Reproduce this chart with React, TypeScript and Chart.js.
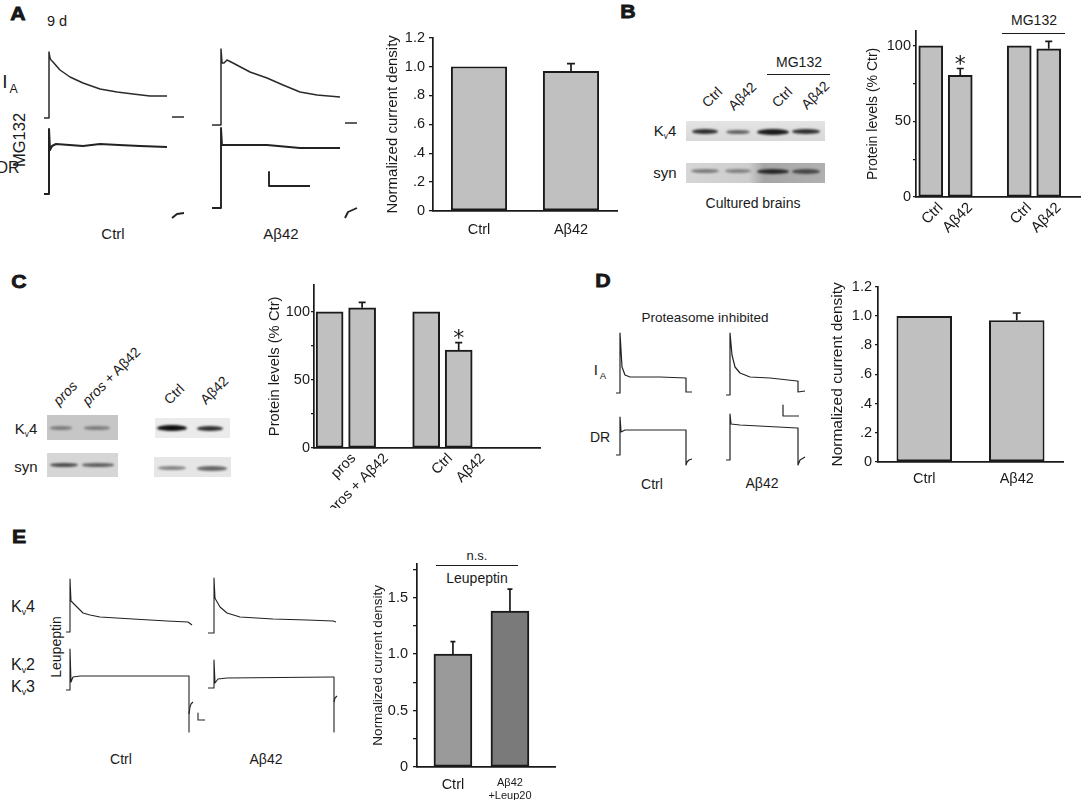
import React, { useEffect, useRef } from 'react';
import { Chart, registerables } from 'chart.js';

Chart.register(...registerables);

const FONT = "'Liberation Sans', Arial, Helvetica, sans-serif";
const INK = '#1a1a1a';
Chart.defaults.font.family = FONT;
Chart.defaults.color = INK;

// ---------------- bar chart data ----------------
const aCategories = ['Ctrl', 'Aβ42'];
const aValues = [1.0, 0.97];
const aErrors = [0, 0.05];

const bCategories = ['Ctrl', 'Aβ42', 'Ctrl', 'Aβ42'];
const bSlots = [0.5, 1.5, 3.5, 4.5];
const bValues = [100, 80.5, 100, 98];
const bErrors = [0, 4.5, 0, 5];
const bStars = [false, true, false, false];

const cCategories = ['pros', 'pros + Aβ42', 'Ctrl', 'Aβ42'];
const cSlots = [0.48, 1.48, 3.45, 4.45];
const cValues = [100, 103, 100, 72];
const cErrors = [0, 4, 0, 5.5];
const cStars = [false, false, false, true];

const dCategories = ['Ctrl', 'Aβ42'];
const dValues = [1.0, 0.97];
const dErrors = [0, 0.05];

const eCategories = [['Ctrl'], ['Aβ42', '+Leup20']];
const eSlots = [0, 1];
const eValues = [1.0, 1.38];
const eErrors = [0.11, 0.195];
const eColors = ['#9a9a9a', '#7a7a7a'];

// tick values / labels
const densityTickValues = [0, 0.2, 0.4, 0.6, 0.8, 1.0, 1.2];
const densityTickLabels = ['0', '.2', '.4', '.6', '.8', '1.0', '1.2'];
const proteinTickValues = [0, 25, 50, 75, 100];
const proteinTickLabels = ['0', '', '50', '', '100'];
const eTickValues = [0, 0.25, 0.5, 0.75, 1.0, 1.25, 1.5, 1.75];
const eTickLabels = ['0', '', '0.5', '', '1.0', '', '1.5', ''];

// ---------------- current traces: [t, I] relative to step onset / holding level ----------------
const aCtrlIA = [[-5, 0], [0, 0], [0, 66], [1, 60], [2, 58], [4, 56], [11, 48], [21, 41], [34, 35], [51, 29], [68, 26], [84, 24], [101, 22], [118, 22]];
const aCtrlIATail = [[123, 1], [135, 1]];
const aCtrlDR = [[-5, 0], [0, 0], [0, 65], [1, 44], [3, 48], [7, 50], [34, 48], [51, 50], [70, 49], [91, 48], [118, 47]];
const aCtrlDRTail = [[123, -24], [128, -20], [135, -19]];
const aAbIA = [[-9, 0], [0, 0], [0, 76], [1, 62], [3, 62], [6, 65], [12, 62], [29, 53], [46, 47], [62, 40], [79, 33], [96, 30], [119, 28]];
const aAbIATail = [[124, 2], [136, 2]];
const aAbDR = [[-9, 0], [0, 0], [0, 80], [1, 63], [3, 63], [12, 63], [46, 63], [79, 60], [119, 60]];
const aAbDRTail = [[124, -10], [127, -4], [136, 0]];
const aScaleBar = [[48, 36], [48, 22], [89, 22]];

const dCtrlIA = [[-4, 0], [0, 0], [0, 60], [1, 43], [2, 26], [5, 18], [10, 16], [40, 16], [66, 15], [66, 1], [72, 1]];
const dCtrlDR = [[-4, 0], [0, 0], [0, 38], [1, 23], [5, 25], [66, 25], [66, -10], [67, -7], [69, -5], [72, -4]];
const dAbIA = [[-4, 0], [0, 0], [0, 62], [2, 40], [5, 28], [10, 22], [20, 18], [40, 17], [67, 14], [68, 14], [68, 3], [75, 4]];
const dAbDR = [[-4, 0], [0, 0], [0, 46], [1, 36], [10, 35], [67, 32], [68, 32], [68, -5], [70, 0], [75, 3]];
const dScaleBar = [[53, -10], [53, -21], [69, -21]];

const eCtrlK4 = [[-4, 0], [0, 0], [0, 53], [1, 31], [2, 30], [5, 27], [10, 22], [13, 19], [20, 17], [30, 15], [63, 13], [97, 11], [118, 10], [122, 7]];
const eCtrlK23 = [[-4, 0], [0, 0], [0, 41], [1, 8], [3, 13], [10, 14], [119, 14], [119, -42]];
const eCtrlK23Tail = [[119, -24], [120, -17], [121, -14], [123, -12]];
const eScaleBar = [[128, -23], [128, -30], [135, -30]];
const eAbK4 = [[-6, 0], [0, 0], [0, 55], [1, 35], [2, 33], [6, 26], [13, 20], [26, 16], [59, 14], [93, 13], [119, 12], [122, 11]];
const eAbK23 = [[-6, 0], [0, 0], [0, 28], [1, 5], [4, 9], [13, 10], [119, 11], [120, 11], [120, -44]];
const eAbK23Tail = [[120, -14], [121, -10], [123, -8]];

// ---------------- western blot band intensities ----------------
const bKv4Bands = [0.85, 0.6, 0.95, 0.85];
const bSynBands = [0.45, 0.4, 0.85, 0.65];
const cProsKv4Bands = [0.4, 0.4];
const cProsSynBands = [0.7, 0.6];
const cCtrlKv4Bands = [1.0, 0.85];
const cCtrlSynBands = [0.45, 0.6];

// ---------------- plugins ----------------
const errorBarPlugin = {
  id: 'errbars',
  afterDatasetsDraw(chart: any, _args: any, opts: any) {
    const meta = chart.getDatasetMeta(0);
    const ys = chart.scales.y;
    const ctx = chart.ctx;
    const vals = chart.data.datasets[0].data;
    ctx.save();
    ctx.strokeStyle = INK;
    ctx.fillStyle = INK;
    ctx.lineWidth = 1.7;
    meta.data.forEach((bar: any, i: number) => {
      const raw = vals[i];
      const v = typeof raw === 'number' ? raw : raw.y;
      const e = (opts.errors && opts.errors[i]) || 0;
      const top = ys.getPixelForValue(v + e);
      if (e > 0) {
        ctx.beginPath();
        ctx.moveTo(bar.x, bar.y);
        ctx.lineTo(bar.x, top);
        ctx.moveTo(bar.x - opts.cap / 2, top);
        ctx.lineTo(bar.x + opts.cap / 2, top);
        ctx.stroke();
      }
      if (opts.stars && opts.stars[i]) {
        ctx.font = "22px 'DejaVu Sans'";
        ctx.textAlign = 'center';
        ctx.textBaseline = 'alphabetic';
        ctx.fillText('*', bar.x, top + 2.5);
      }
    });
    ctx.restore();
  },
};

type BarSpec = {
  categories: any[];
  values: number[];
  errors: number[];
  stars?: boolean[];
  colors: string | string[];
  slots?: number[];
  xMin?: number;
  xMax?: number;
  yMin: number;
  yMax: number;
  yTickValues: number[];
  yTickLabels: string[];
  yTitle: string;
  titleSize: number;
  titlePad: number;
  tickLen: number;
  tickPad: number;
  axisW: number;
  axisH: number;
  padTop: number;
  padRight: number;
  barThickness?: number;
  barPercentage?: number;
  rotate?: number;
  labelOffset?: number;
  xPad: number;
  xFont?: any;
  cap: number;
};

function BarChart({ left, top, width, height, spec }: { left: number; top: number; width: number; height: number; spec: BarSpec }) {
  const ref = useRef<HTMLCanvasElement>(null);
  useEffect(() => {
    const s = spec;
    const linear = !!s.slots;
    const data = linear ? s.values.map((v, i) => ({ x: (s.slots as number[])[i], y: v })) : s.values;
    const xScale: any = linear
      ? {
          type: 'linear',
          min: s.xMin,
          max: s.xMax,
          offset: false,
          afterBuildTicks: (sc: any) => {
            sc.ticks = (s.slots as number[]).map((v) => ({ value: v }));
          },
          ticks: {
            autoSkip: false,
            callback: (_v: any, i: number) => s.categories[i],
            minRotation: s.rotate ?? 0,
            maxRotation: s.rotate ?? 0,
            labelOffset: s.labelOffset ?? 0,
            padding: s.xPad,
            font: s.xFont ?? { size: 14 },
            color: INK,
          },
        }
      : {
          type: 'category',
          offset: true,
          ticks: { padding: s.xPad, font: { size: 14.5 }, color: INK, maxRotation: 0, autoSkip: false },
        };
    xScale.grid = { drawOnChartArea: false, drawTicks: false };
    xScale.border = { display: true, color: INK, width: 1.7 };
    xScale.afterFit = (sc: any) => {
      sc.height = s.axisH;
    };
    const chart = new Chart(ref.current as HTMLCanvasElement, {
      type: 'bar',
      data: {
        labels: linear ? undefined : s.categories,
        datasets: [
          {
            data: data as any,
            backgroundColor: s.colors as any,
            borderColor: INK,
            borderWidth: 2,
            borderSkipped: false,
            barThickness: s.barThickness as any,
            barPercentage: s.barPercentage ?? 0.9,
            categoryPercentage: 1,
          },
        ],
      },
      options: {
        animation: false,
        responsive: false,
        devicePixelRatio: 1,
        events: [],
        layout: { padding: { top: s.padTop, right: s.padRight, left: 0, bottom: 0 } },
        plugins: {
          legend: { display: false },
          tooltip: { enabled: false },
          errbars: { errors: s.errors, stars: s.stars, cap: s.cap },
        } as any,
        scales: {
          x: xScale,
          y: {
            type: 'linear',
            min: s.yMin,
            max: s.yMax,
            afterBuildTicks: (sc: any) => {
              sc.ticks = s.yTickValues.map((v) => ({ value: v }));
            },
            ticks: {
              autoSkip: false,
              callback: (_v: any, i: number) => s.yTickLabels[i],
              font: { size: 14.5 },
              color: INK,
              padding: s.tickPad,
            },
            grid: { drawOnChartArea: false, drawTicks: true, tickLength: s.tickLen, color: INK, lineWidth: 1.3 },
            border: { display: true, color: INK, width: 1.7 },
            title: {
              display: true,
              text: s.yTitle,
              font: { size: s.titleSize },
              color: INK,
              padding: { top: s.titlePad, bottom: 0 },
            },
            afterFit: (sc: any) => {
              sc.width = s.axisW;
            },
          } as any,
        },
      },
      plugins: [errorBarPlugin],
    });
    return () => chart.destroy();
  }, []);
  return <canvas ref={ref} width={width} height={height} style={{ position: 'absolute', left, top, width, height }} />;
}

function TraceChart({ ox, oy, xr, yr, segs, lw = 1.2, color = '#222' }: { ox: number; oy: number; xr: number[]; yr: number[]; segs: number[][][]; lw?: number; color?: string }) {
  const ref = useRef<HTMLCanvasElement>(null);
  const w = xr[1] - xr[0];
  const h = yr[1] - yr[0];
  useEffect(() => {
    const chart = new Chart(ref.current as HTMLCanvasElement, {
      type: 'line',
      data: {
        datasets: segs.map((sg) => ({
          data: sg.map(([x, y]) => ({ x, y })),
          borderColor: color,
          borderWidth: lw,
          pointRadius: 0,
          tension: 0,
          fill: false,
          clip: false as any,
          borderJoinStyle: 'round' as any,
        })),
      },
      options: {
        animation: false,
        responsive: false,
        devicePixelRatio: 1,
        events: [],
        layout: { padding: 0 },
        plugins: { legend: { display: false }, tooltip: { enabled: false } },
        scales: {
          x: { type: 'linear', display: false, min: xr[0], max: xr[1] },
          y: { type: 'linear', display: false, min: yr[0], max: yr[1] },
        },
      },
    });
    return () => chart.destroy();
  }, []);
  return <canvas ref={ref} width={w} height={h} style={{ position: 'absolute', left: ox + xr[0], top: oy - yr[1], width: w, height: h }} />;
}

function Label({ x, y, size = 14, bold = false, italic = false, rot = 0, sx = 1, heavy = false, children }: any) {
  return (
    <div
      style={{
        position: 'absolute',
        left: x,
        top: y,
        transform: `translate(-50%, -50%) rotate(${rot}deg) scaleX(${sx})`,
        fontFamily: FONT,
        fontSize: size,
        fontWeight: bold ? 700 : 400,
        fontStyle: italic ? 'italic' : 'normal',
        whiteSpace: 'nowrap',
        lineHeight: 1,
        color: INK,
        WebkitTextStroke: heavy ? '0.8px #111' : undefined,
      }}
    >
      {children}
    </div>
  );
}

function HLine({ x1, x2, y, w = 1.3 }: any) {
  return <div style={{ position: 'absolute', left: x1, top: y, width: x2 - x1, height: 0, borderTop: `${w}px solid ${INK}` }} />;
}

const Kv = ({ n }: any) => (
  <span>
    K<span style={{ fontSize: '0.55em', verticalAlign: '-0.3em' }}>v</span>
    {n}
  </span>
);
const IA = () => (
  <span>
    I<span style={{ fontSize: '0.65em', verticalAlign: '-0.4em', marginLeft: 2 }}>A</span>
  </span>
);

function Blot({ x, y, w, h, bg, lanes, cy, bands }: any) {
  return (
    <div style={{ position: 'absolute', left: x, top: y, width: w, height: h, background: bg, overflow: 'hidden' }}>
      {lanes.map((ln: any, i: number) => (
        <div
          key={i}
          style={{
            position: 'absolute',
            left: ln.cx - ln.w / 2,
            top: cy - ln.h / 2,
            width: ln.w,
            height: ln.h,
            borderRadius: '50%',
            background: `rgba(15,15,15,${bands[i]})`,
            filter: 'blur(1.2px)',
          }}
        />
      ))}
    </div>
  );
}

const GRAY = '#c0c0c0';

export default function App() {
  const aSpec: BarSpec = {
    categories: aCategories, values: aValues, errors: aErrors, colors: GRAY,
    yMin: 0, yMax: 1.2, yTickValues: densityTickValues, yTickLabels: densityTickLabels,
    yTitle: 'Normalized current density', titleSize: 15, titlePad: 4, tickLen: 4, tickPad: 4,
    axisW: 53, axisH: 30, padTop: 9, padRight: 3, barPercentage: 0.61, xPad: 10, cap: 8,
  };
  const dSpec: BarSpec = {
    categories: dCategories, values: dValues, errors: dErrors, colors: GRAY,
    yMin: 0, yMax: 1.2, yTickValues: densityTickValues, yTickLabels: densityTickLabels,
    yTitle: 'Normalized current density', titleSize: 15.5, titlePad: 3, tickLen: 3, tickPad: 3,
    axisW: 53, axisH: 30, padTop: 10, padRight: 2, barPercentage: 0.6, xPad: 8, cap: 8,
  };
  const bSpec: BarSpec = {
    categories: bCategories, values: bValues, errors: bErrors, stars: bStars, colors: GRAY,
    slots: bSlots, xMin: 0, xMax: 5.56,
    yMin: 0, yMax: 110, yTickValues: proteinTickValues, yTickLabels: proteinTickLabels,
    yTitle: 'Protein levels (% Ctr)', titleSize: 14, titlePad: 4.6, tickLen: 3, tickPad: 2,
    axisW: 56, axisH: 45, padTop: 9, padRight: 2, barThickness: 24, rotate: 45, labelOffset: 10, xPad: 2,
    xFont: { size: 15 }, cap: 7,
  };
  const cSpec: BarSpec = {
    categories: cCategories, values: cValues, errors: cErrors, stars: cStars, colors: GRAY,
    slots: cSlots, xMin: 0, xMax: 6.95,
    yMin: 0, yMax: 120, yTickValues: proteinTickValues, yTickLabels: proteinTickLabels,
    yTitle: 'Protein levels (% Ctr)', titleSize: 14.8, titlePad: 11, tickLen: 3, tickPad: 1,
    axisW: 59, axisH: 60, padTop: 8, padRight: 2, barThickness: 27, rotate: 45, labelOffset: 24, xPad: 2,
    xFont: { size: 14.5 }, cap: 7,
  };
  const eSpec: BarSpec = {
    categories: eCategories, values: eValues, errors: eErrors, colors: eColors,
    slots: eSlots, xMin: -0.63, xMax: 1.79,
    yMin: 0, yMax: 1.8, yTickValues: eTickValues, yTickLabels: eTickLabels,
    yTitle: 'Normalized current density', titleSize: 13.5, titlePad: 10, tickLen: 4, tickPad: 5,
    axisW: 57, axisH: 33, padTop: 12, padRight: 3, barThickness: 38, rotate: 0, xPad: 9,
    xFont: (ctx: any) => ({ size: ctx.index === 0 ? 14.5 : 11 }), cap: 5,
  };

  return (
    <div style={{ position: 'absolute', left: 0, top: 0, width: 1082, height: 800, background: '#fff', overflow: 'hidden', fontFamily: FONT, color: INK }}>
      {/* panel letters */}
      <Label x={18} y={13} size={19} bold heavy sx={1.12}>A</Label>
      <Label x={628} y={11} size={19} bold heavy sx={1.12}>B</Label>
      <Label x={18.5} y={281} size={19} bold heavy sx={1.12}>C</Label>
      <Label x={602.5} y={280} size={19} bold heavy sx={1.12}>D</Label>
      <Label x={19} y={536} size={19} bold heavy sx={1.12}>E</Label>

      {/* ---------- Panel A ---------- */}
      <Label x={57} y={21} size={14.5}>9 d</Label>
      <Label x={10} y={84} size={19}><IA /></Label>
      <Label x={19} y={140} size={16.5} rot={-90}>MG132</Label>
      <Label x={8} y={168} size={16}>DR</Label>
      <Label x={113} y={233} size={15}>Ctrl</Label>
      <Label x={281} y={233} size={15}>Aβ42</Label>
      <TraceChart ox={49} oy={118} xr={[-8, 140]} yr={[-6, 72]} segs={[aCtrlIA, aCtrlIATail]} lw={1.5} color="#2a2a2a" />
      <TraceChart ox={49} oy={194} xr={[-8, 140]} yr={[-28, 70]} segs={[aCtrlDR, aCtrlDRTail]} lw={2} />
      <TraceChart ox={221} oy={125} xr={[-12, 140]} yr={[-5, 80]} segs={[aAbIA, aAbIATail]} lw={1.5} color="#2a2a2a" />
      <TraceChart ox={221} oy={208} xr={[-12, 140]} yr={[-14, 84]} segs={[aAbDR, aAbDRTail, aScaleBar]} lw={1.9} />
      <BarChart left={380} top={25} width={240} height={216} spec={aSpec} />

      {/* ---------- Panel B ---------- */}
      <Label x={712} y={97} rot={-45}>Ctrl</Label>
      <Label x={742} y={96} rot={-45}>Aβ42</Label>
      <Label x={782} y={97} rot={-45}>Ctrl</Label>
      <Label x={815} y={95} rot={-45}>Aβ42</Label>
      <Label x={799} y={62}>MG132</Label>
      <HLine x1={767} x2={830} y={74} />
      <Label x={665} y={132} size={15}><Kv n="4" /></Label>
      <Label x={665} y={172} size={15}>syn</Label>
      <Blot x={686} y={121} w={139} h={20} bg="linear-gradient(to bottom, #e4e4e4, #d8d8d8)" cy={10.5}
        lanes={[{ cx: 19, w: 26, h: 5 }, { cx: 52, w: 24, h: 4 }, { cx: 87, w: 32, h: 6 }, { cx: 120, w: 28, h: 5 }]} bands={bKv4Bands} />
      <Blot x={686} y={163} w={139} h={20} bg="linear-gradient(to right, #d6d6d6 0%, #cdcdcd 45%, #a6a6a6 56%, #b0b0b0 100%)" cy={8}
        lanes={[{ cx: 19, w: 28, h: 4 }, { cx: 52, w: 26, h: 4 }, { cx: 87, w: 32, h: 5 }, { cx: 120, w: 28, h: 5 }]} bands={bSynBands} />
      <Label x={753} y={203}>Cultured brains</Label>
      <Label x={1034} y={20}>MG132</Label>
      <HLine x1={1002} x2={1065} y={32.5} />
      <BarChart left={860} top={20} width={222} height={222} spec={bSpec} />

      {/* ---------- Panel C ---------- */}
      <Label x={65} y={393} rot={-45} italic>pros</Label>
      <Label x={111} y={376} rot={-45}><i>pros</i> + Aβ42</Label>
      <Label x={174} y={394} rot={-45}>Ctrl</Label>
      <Label x={214} y={390} rot={-45}>Aβ42</Label>
      <Label x={26} y={430} size={15}><Kv n="4" /></Label>
      <Label x={26} y={466} size={15}>syn</Label>
      <Blot x={47} y={415} w={71} h={25} bg="#c6c6c6" cy={13}
        lanes={[{ cx: 14, w: 22, h: 3.5 }, { cx: 50, w: 26, h: 3.5 }]} bands={cProsKv4Bands} />
      <Blot x={47} y={453} w={71} h={24} bg="#d6d6d6" cy={12}
        lanes={[{ cx: 17, w: 28, h: 4 }, { cx: 51, w: 32, h: 3.5 }]} bands={cProsSynBands} />
      <Blot x={155} y={418} w={75} h={20} bg="#ebebeb" cy={10}
        lanes={[{ cx: 17, w: 30, h: 6 }, { cx: 55, w: 26, h: 5 }]} bands={cCtrlKv4Bands} />
      <Blot x={154} y={457} w={77} h={20} bg="#e6e6e6" cy={11}
        lanes={[{ cx: 18, w: 28, h: 4 }, { cx: 58, w: 30, h: 5 }]} bands={cCtrlSynBands} />
      <BarChart left={255} top={275} width={287} height={233} spec={cSpec} />

      {/* ---------- Panel D ---------- */}
      <Label x={705} y={318} size={13.5}>Proteasome inhibited</Label>
      <Label x={600} y={371} size={15}><IA /></Label>
      <Label x={600} y={437} size={14}>DR</Label>
      <Label x={652} y={484}>Ctrl</Label>
      <Label x={762} y={483}>Aβ42</Label>
      <TraceChart ox={620} oy={393} xr={[-6, 78]} yr={[-4, 64]} segs={[dCtrlIA]} lw={1.2} />
      <TraceChart ox={620} oy={455} xr={[-6, 78]} yr={[-14, 42]} segs={[dCtrlDR]} lw={1.2} />
      <TraceChart ox={730} oy={395} xr={[-6, 80]} yr={[-24, 66]} segs={[dAbIA, dScaleBar]} lw={1.2} />
      <TraceChart ox={730} oy={460} xr={[-6, 80]} yr={[-8, 50]} segs={[dAbDR]} lw={1.2} />
      <BarChart left={825} top={275} width={240} height={217} spec={dSpec} />

      {/* ---------- Panel E ---------- */}
      <Label x={23} y={608} size={16}><Kv n="4" /></Label>
      <Label x={23} y={666} size={16}><Kv n="2" /></Label>
      <Label x={23} y={688} size={16}><Kv n="3" /></Label>
      <Label x={56} y={647} size={14} rot={-90}>Leupeptin</Label>
      <Label x={121} y={759}>Ctrl</Label>
      <Label x={266} y={759}>Aβ42</Label>
      <TraceChart ox={70} oy={632} xr={[-6, 126]} yr={[-3, 57]} segs={[eCtrlK4]} lw={1.1} />
      <TraceChart ox={70} oy={690} xr={[-6, 140]} yr={[-46, 45]} segs={[eCtrlK23, eCtrlK23Tail, eScaleBar]} lw={1.1} />
      <TraceChart ox={214} oy={633} xr={[-8, 126]} yr={[-3, 58]} segs={[eAbK4]} lw={1.1} />
      <TraceChart ox={214} oy={688} xr={[-8, 126]} yr={[-48, 32]} segs={[eAbK23, eAbK23Tail]} lw={1.1} />
      <Label x={477} y={555} size={13}>n.s.</Label>
      <HLine x1={436} x2={518} y={564.5} />
      <Label x={477} y={578}>Leupeptin</Label>
      <BarChart left={360} top={550} width={198} height={250} spec={eSpec} />
    </div>
  );
}
